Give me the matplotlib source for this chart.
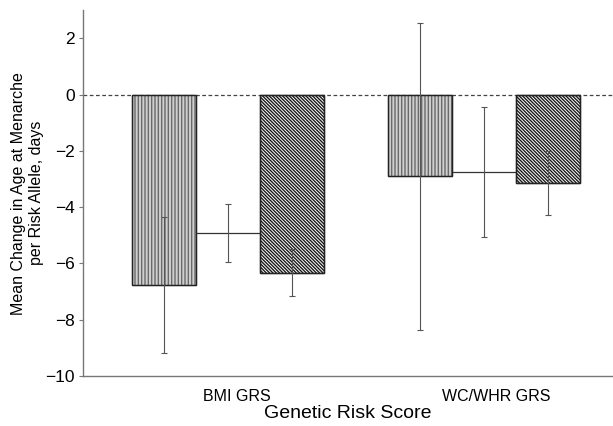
import numpy as np
import matplotlib.pyplot as plt

groups = ["BMI GRS", "WC/WHR GRS"]
group_pos = [0.0, 4.0]
label_pos = [0.13, 4.2]

# three estimates per group: left (vertical hatch), middle (plain), right (diagonal hatch)
bmi_vals = [-6.76, -4.90, -6.32]
bmi_err = [2.42, 1.03, 0.82]
wc_vals = [-2.91, -2.75, -3.13]
wc_err = [5.45, 2.30, 1.14]

values = [bmi_vals, wc_vals]
errors = [bmi_err, wc_err]

plt.rcParams["font.family"] = ["Liberation Sans", "DejaVu Sans"]
plt.rcParams["hatch.linewidth"] = 1.0

fig = plt.figure(figsize=(6.13, 4.26), dpi=100)
ax = fig.add_axes([0.1354, 0.117, 0.8646, 0.8595])

faces = ["#cfcfcf", "none", "white"]
hatches = ["|||||", None, "\\" * 10]
edges = ["#6a6a6a", "#333333", "#1a1a1a"]
offsets = [-1, 0, 1]

for k in range(3):
    xs = [g + offsets[k] for g in group_pos]
    ys = [v[k] for v in values]
    es = [e[k] for e in errors]
    if k == 1:
        # plain bar: only its bottom edge is visible
        ax.bar(xs, ys, width=1.0, color=faces[k], linewidth=0, zorder=2)
        ax.hlines(ys, [x - 0.5 for x in xs], [x + 0.5 for x in xs],
                  color="#333333", linewidth=0.9, zorder=2)
    else:
        ax.bar(xs, ys, width=1.0, color=faces[k], edgecolor=edges[k],
               hatch=hatches[k], linewidth=0.9, zorder=2)
        ax.bar(xs, ys, width=1.0, color="none", edgecolor="#222222",
               linewidth=1.0, zorder=2)
    ax.errorbar(xs, ys, yerr=es, fmt="none", ecolor="#555555",
                elinewidth=0.8, capsize=2, capthick=0.8, zorder=3)

ax.axhline(0, color="#444444", linestyle=(0, (3, 2)), linewidth=0.9, zorder=1)

ax.set_xlim(-2.27, 6.02)
ax.set_ylim(-10, 3.0)
ax.set_yticks([2, 0, -2, -4, -6, -8, -10])
ax.set_yticklabels(["2", "0", "\u22122", "\u22124", "\u22126", "\u22128", "\u221210"])
ax.set_xticks(label_pos)
ax.set_xticklabels(groups)

ax.tick_params(axis="x", length=0, pad=9, labelsize=11.5)
ax.tick_params(axis="y", length=3, width=0.8, color="#777777", labelsize=12.5, pad=3)

for s in ["top", "right"]:
    ax.spines[s].set_visible(False)
for s in ["left", "bottom"]:
    ax.spines[s].set_color("#777777")
    ax.spines[s].set_linewidth(1.0)

ax.set_xlabel("Genetic Risk Score", fontsize=14, labelpad=1)
ax.set_ylabel("Mean Change in Age at Menarche\nper Risk Allele, days", fontsize=11.5, labelpad=1)

fig.savefig("out.png", dpi=100)
